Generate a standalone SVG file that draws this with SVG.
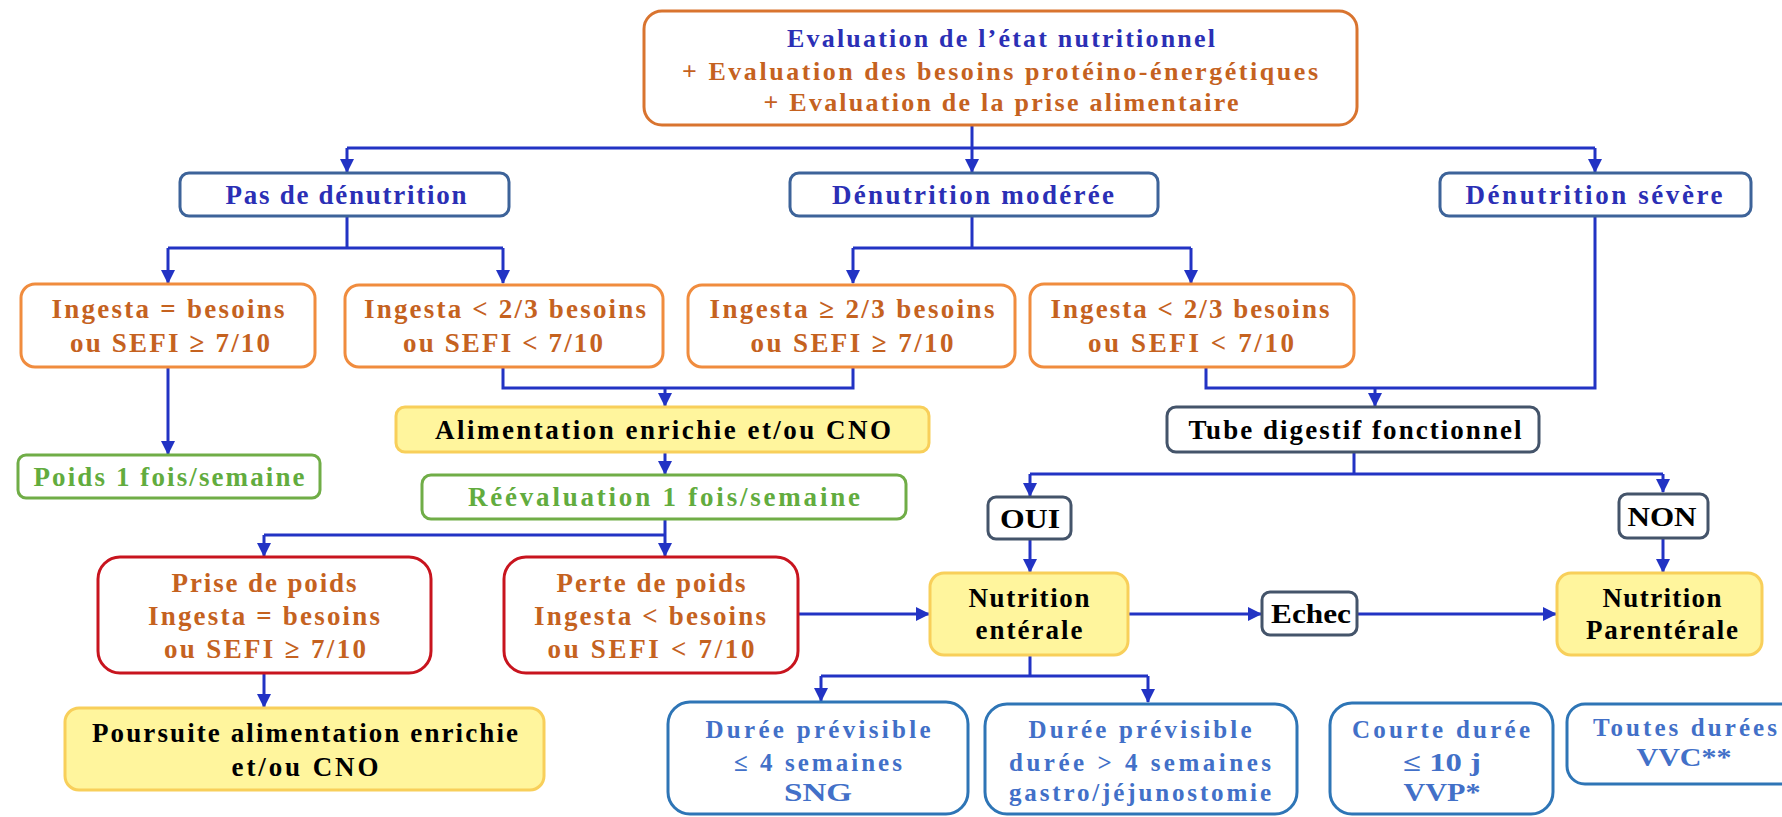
<svg xmlns="http://www.w3.org/2000/svg" width="1782" height="817" viewBox="0 0 1782 817">
<defs>
<marker id="ah" markerUnits="userSpaceOnUse" markerWidth="16" markerHeight="14" refX="13" refY="7" orient="auto">
<path d="M0,0 L14,7 L0,14 z" fill="#2233C4"/>
</marker>
<style>
text{font-family:"Liberation Serif","Times New Roman",serif;font-weight:bold;font-size:27px;text-anchor:middle}
.t{font-size:26px}
.s{font-size:25px}
.b{fill:#2B2FB5}
.o{fill:#C5621F}
.k{fill:#000}
.g{fill:#62AC3E}
.d{fill:#4270C8}
.box{stroke-width:3}
.topb{fill:#fff;stroke:#D9742F}
.lvl{fill:#fff;stroke:#3D6399}
.ora{fill:#fff;stroke:#F08C3E}
.grn{fill:#fff;stroke:#70AD47}
.yel{fill:#FFF59D;stroke:#F8CF5A}
.red{fill:#fff;stroke:#C8141E}
.gry{fill:#fff;stroke:#44546A}
.blu{fill:#fff;stroke:#2E75B6}
.c{fill:none;stroke:#2233C4;stroke-width:3}
.a{marker-end:url(#ah)}
</style>
</defs>
<rect width="1782" height="817" fill="#fff"/>

<g id="connectors">
<path class="c" d="M347 148 H1595"/>
<path class="c a" d="M972 125 V172"/>
<path class="c a" d="M347 148 V172"/>
<path class="c a" d="M1595 148 V172"/>
<path class="c" d="M347 216 V248 M168 248 H503"/>
<path class="c a" d="M168 248 V283"/>
<path class="c a" d="M503 248 V283"/>
<path class="c" d="M972 216 V248 M853 248 H1191"/>
<path class="c a" d="M853 248 V283"/>
<path class="c a" d="M1191 248 V283"/>
<path class="c a" d="M168 367 V454"/>
<path class="c" d="M503 367 V388 H853 V367"/>
<path class="c a" d="M665 388 V406"/>
<path class="c a" d="M665 452 V474"/>
<path class="c" d="M665 519 V535 M264 535 H665"/>
<path class="c a" d="M264 535 V556"/>
<path class="c a" d="M665 535 V556"/>
<path class="c a" d="M264 673 V707"/>
<path class="c a" d="M798 614 H929"/>
<path class="c" d="M1206 367 V388 H1595 V216"/>
<path class="c a" d="M1375 388 V406"/>
<path class="c" d="M1354 452 V474 M1030 474 H1663"/>
<path class="c a" d="M1030 474 V496"/>
<path class="c a" d="M1663 474 V492"/>
<path class="c a" d="M1030 539 V572"/>
<path class="c a" d="M1663 538 V572"/>
<path class="c a" d="M1128 614 H1261"/>
<path class="c a" d="M1357 614 H1556"/>
<path class="c" d="M1030 655 V676 M821 676 H1148"/>
<path class="c a" d="M821 676 V701"/>
<path class="c a" d="M1148 676 V702"/>
</g>

<g id="n-eval">
<rect class="box topb" x="644" y="11" width="713" height="114" rx="18"/>
<text class="b t" x="1001" y="47" textLength="428" lengthAdjust="spacing">Evaluation de l’état nutritionnel</text>
<text class="o t" x="1000" y="80" textLength="636" lengthAdjust="spacing">+ Evaluation des besoins protéino-énergétiques</text>
<text class="o t" x="1001" y="111" textLength="475" lengthAdjust="spacing">+ Evaluation de la prise alimentaire</text>
</g>

<g id="n-pas">
<rect class="box lvl" x="180" y="173" width="329" height="43" rx="9"/>
<text class="b" x="346" y="204" textLength="241" lengthAdjust="spacing">Pas de dénutrition</text>
</g>
<g id="n-moderee">
<rect class="box lvl" x="790" y="173" width="368" height="43" rx="9"/>
<text class="b" x="973" y="204" textLength="282" lengthAdjust="spacing">Dénutrition modérée</text>
</g>
<g id="n-severe">
<rect class="box lvl" x="1440" y="173" width="311" height="43" rx="9"/>
<text class="b" x="1594" y="204" textLength="257" lengthAdjust="spacing">Dénutrition sévère</text>
</g>

<g id="n-ingA">
<rect class="box ora" x="21" y="284" width="294" height="83" rx="14"/>
<text class="o" x="168" y="318" textLength="233" lengthAdjust="spacing">Ingesta = besoins</text>
<text class="o" x="170" y="352" textLength="200" lengthAdjust="spacing">ou SEFI ≥ 7/10</text>
</g>
<g id="n-ingB">
<rect class="box ora" x="345" y="285" width="318" height="82" rx="14"/>
<text class="o" x="505" y="318" textLength="282" lengthAdjust="spacing">Ingesta &lt; 2/3 besoins</text>
<text class="o" x="503" y="352" textLength="200" lengthAdjust="spacing">ou SEFI &lt; 7/10</text>
</g>
<g id="n-ingC">
<rect class="box ora" x="688" y="285" width="327" height="82" rx="14"/>
<text class="o" x="852" y="318" textLength="285" lengthAdjust="spacing">Ingesta  ≥ 2/3 besoins</text>
<text class="o" x="852" y="352" textLength="203" lengthAdjust="spacing">ou SEFI ≥ 7/10</text>
</g>
<g id="n-ingD">
<rect class="box ora" x="1030" y="284" width="324" height="83" rx="14"/>
<text class="o" x="1190" y="318" textLength="279" lengthAdjust="spacing">Ingesta &lt; 2/3 besoins</text>
<text class="o" x="1191" y="352" textLength="206" lengthAdjust="spacing">ou SEFI &lt; 7/10</text>
</g>

<g id="n-poids">
<rect class="box grn" x="18" y="455" width="302" height="43" rx="8"/>
<text class="g" x="169" y="486" textLength="271" lengthAdjust="spacing">Poids 1 fois/semaine</text>
</g>

<g id="n-alim">
<rect class="box yel" x="396" y="407" width="533" height="45" rx="9"/>
<text class="k" x="663" y="439" textLength="456" lengthAdjust="spacing">Alimentation enrichie et/ou CNO</text>
</g>
<g id="n-reeval">
<rect class="box grn" x="422" y="475" width="484" height="44" rx="9"/>
<text class="g" x="664" y="506" textLength="392" lengthAdjust="spacing">Réévaluation 1 fois/semaine</text>
</g>

<g id="n-prise">
<rect class="box red" x="98" y="557" width="333" height="116" rx="22"/>
<text class="o" x="264" y="592" textLength="185" lengthAdjust="spacing">Prise de poids</text>
<text class="o" x="264" y="625" textLength="232" lengthAdjust="spacing">Ingesta = besoins</text>
<text class="o" x="265" y="658" textLength="202" lengthAdjust="spacing">ou SEFI ≥ 7/10</text>
</g>
<g id="n-perte">
<rect class="box red" x="504" y="557" width="294" height="116" rx="22"/>
<text class="o" x="651" y="592" textLength="189" lengthAdjust="spacing">Perte de poids</text>
<text class="o" x="650" y="625" textLength="232" lengthAdjust="spacing">Ingesta &lt; besoins</text>
<text class="o" x="651" y="658" textLength="207" lengthAdjust="spacing">ou SEFI &lt; 7/10</text>
</g>
<g id="n-poursuite">
<rect class="box yel" x="65" y="708" width="479" height="82" rx="14"/>
<text class="k" x="305" y="742" textLength="426" lengthAdjust="spacing">Poursuite alimentation enrichie</text>
<text class="k" x="305" y="776" textLength="147" lengthAdjust="spacing">et/ou CNO</text>
</g>

<g id="n-tube">
<rect class="box gry" x="1167" y="407" width="372" height="45" rx="9"/>
<text class="k" x="1355" y="439" textLength="333" lengthAdjust="spacing">Tube digestif fonctionnel</text>
</g>
<g id="n-oui">
<rect class="box gry" x="988" y="497" width="83" height="42" rx="8"/>
<text class="k" x="1030" y="528" textLength="60" lengthAdjust="spacingAndGlyphs">OUI</text>
</g>
<g id="n-non">
<rect class="box gry" x="1619" y="494" width="89" height="44" rx="8"/>
<text class="k" x="1662" y="526" textLength="69" lengthAdjust="spacingAndGlyphs">NON</text>
</g>

<g id="n-enterale">
<rect class="box yel" x="930" y="573" width="198" height="82" rx="14"/>
<text class="k" x="1029" y="607" textLength="121" lengthAdjust="spacing">Nutrition</text>
<text class="k" x="1029" y="639" textLength="107" lengthAdjust="spacing">entérale</text>
</g>
<g id="n-echec">
<rect class="box gry" x="1262" y="592" width="95" height="43" rx="8"/>
<text class="k" x="1311" y="623" textLength="80" lengthAdjust="spacingAndGlyphs">Echec</text>
</g>
<g id="n-parenterale">
<rect class="box yel" x="1557" y="573" width="205" height="82" rx="14"/>
<text class="k" x="1662" y="607" textLength="119" lengthAdjust="spacing">Nutrition</text>
<text class="k" x="1662" y="639" textLength="152" lengthAdjust="spacing">Parentérale</text>
</g>

<g id="n-duree1">
<rect class="box blu" x="668" y="702" width="300" height="112" rx="22"/>
<text class="d s" x="818" y="738" textLength="225" lengthAdjust="spacing">Durée prévisible</text>
<text class="d s" x="818" y="771" textLength="168" lengthAdjust="spacing">≤ 4 semaines</text>
<text class="d s" x="818" y="801" textLength="68" lengthAdjust="spacingAndGlyphs">SNG</text>
</g>
<g id="n-duree2">
<rect class="box blu" x="985" y="704" width="312" height="110" rx="22"/>
<text class="d s" x="1140" y="738" textLength="223" lengthAdjust="spacing">Durée prévisible</text>
<text class="d s" x="1140" y="771" textLength="262" lengthAdjust="spacing">durée &gt; 4 semaines</text>
<text class="d s" x="1140" y="801" textLength="262" lengthAdjust="spacing">gastro/jéjunostomie</text>
</g>
<g id="n-courte">
<rect class="box blu" x="1330" y="703" width="223" height="111" rx="22"/>
<text class="d s" x="1441" y="738" textLength="178" lengthAdjust="spacing">Courte durée</text>
<text class="d s" x="1442" y="771" textLength="78" lengthAdjust="spacingAndGlyphs">≤ 10 j</text>
<text class="d s" x="1442" y="801" textLength="77" lengthAdjust="spacingAndGlyphs">VVP*</text>
</g>
<g id="n-toutes">
<rect class="box blu" x="1567" y="704" width="240" height="80" rx="18"/>
<text class="d s" x="1685" y="736" textLength="184" lengthAdjust="spacing">Toutes durées</text>
<text class="d s" x="1684" y="766" textLength="95" lengthAdjust="spacingAndGlyphs">VVC**</text>
</g>
</svg>
